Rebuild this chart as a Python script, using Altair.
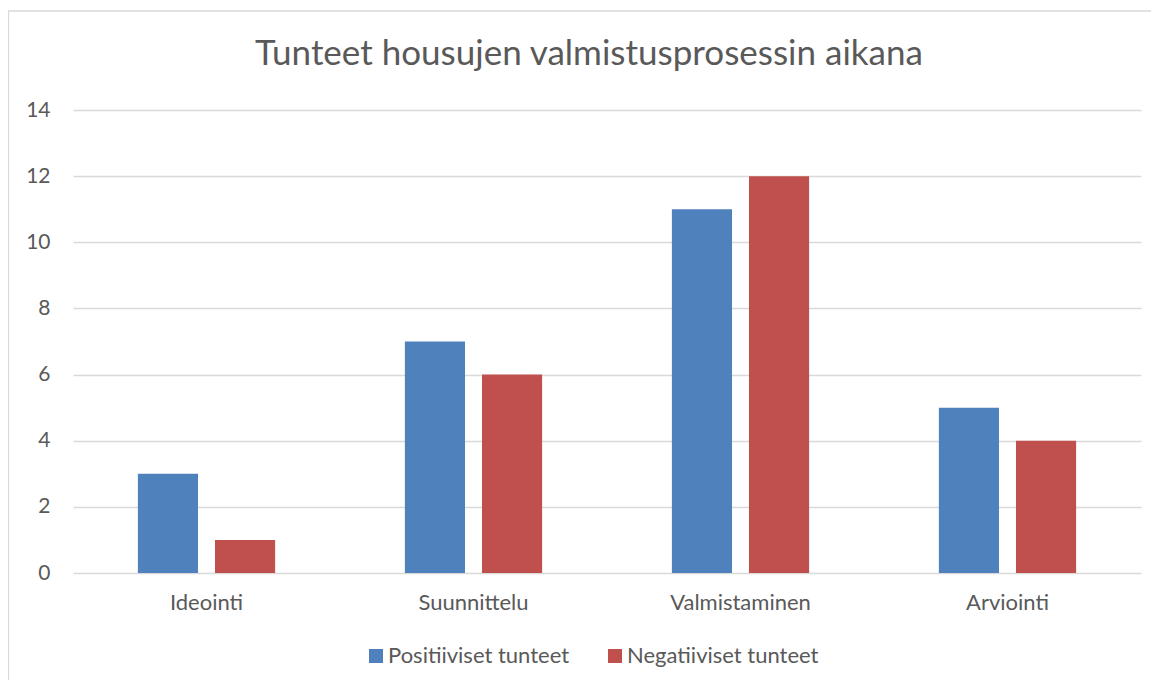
import altair as alt
import pandas as pd

categories = ["Ideointi", "Suunnittelu", "Valmistaminen", "Arviointi"]
series = ["Positiiviset tunteet", "Negatiiviset tunteet"]
positive = [3, 7, 11, 5]
negative = [1, 6, 12, 4]
colors = ["#4F81BD", "#C0504D"]
y_ticks = [0, 2, 4, 6, 8, 10, 12, 14]
title_text = "Tunteet housujen valmistusprosessin aikana"

rows = []
for c, p, n in zip(categories, positive, negative):
    rows.append({"Vaihe": c, "Sarja": series[0], "Arvo": p})
    rows.append({"Vaihe": c, "Sarja": series[1], "Arvo": n})
df = pd.DataFrame(rows)

FONT = "Lato"
GREY = "#595959"

bars = alt.Chart(df).mark_bar().encode(
    x=alt.X("Vaihe:N", sort=categories, title=None,
            scale=alt.Scale(paddingInner=0.486, paddingOuter=0.243),
            axis=alt.Axis(labelAngle=0, ticks=False, domain=False, labelPadding=19,
                          labelFontSize=22, labelColor=GREY, labelFont=FONT, grid=False)),
    xOffset=alt.XOffset("Sarja:N", sort=series, scale=alt.Scale(paddingInner=0.22, paddingOuter=0)),
    y=alt.Y("Arvo:Q", title=None,
            scale=alt.Scale(domain=[0, 14]),
            axis=alt.Axis(values=y_ticks, ticks=False, domain=False, labelPadding=23,
                          labelFontSize=21, labelColor=GREY, labelFont=FONT,
                          gridColor="#d9d9d9", gridWidth=1.3)),
    color=alt.Color("Sarja:N", sort=series,
                    scale=alt.Scale(domain=series, range=colors),
                    legend=alt.Legend(title=None, orient="none", direction="horizontal",
                                      legendX=292, legendY=535,
                                      symbolType="square", symbolSize=196, symbolStrokeWidth=0,
                                      labelFontSize=22, labelColor=GREY, labelFont=FONT,
                                      labelLimit=0, labelOffset=1, columnPadding=34)),
)

one = pd.DataFrame({"t": [title_text]})
frame = alt.Chart(one).mark_rect(fill=None, stroke="#d9d9d9", strokeWidth=1.3, clip=False).encode(
    x=alt.value(-64.5), x2=alt.value(1200), y=alt.value(-99), y2=alt.value(700)
)
title = alt.Chart(one).mark_text(font=FONT, fontSize=35, color=GREY, align="center",
                                 baseline="alphabetic", clip=False).encode(
    text="t:N", x=alt.value(516), y=alt.value(-45)
)

chart = alt.layer(frame, bars, title).properties(
    width=1068, height=463,
    autosize=alt.AutoSizeParams(type="none"),
    padding={"left": 65, "top": 102, "right": 10, "bottom": 107},
).configure_view(stroke=None)

chart.save("out.html", embed_options={"renderer": "svg", "actions": False})
